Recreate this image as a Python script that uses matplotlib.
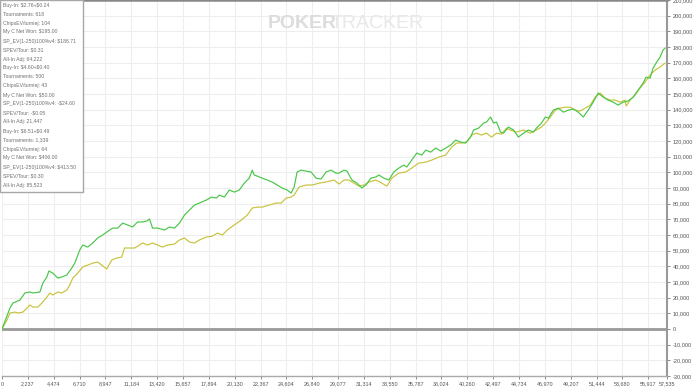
import matplotlib
matplotlib.use("Agg")
import matplotlib.pyplot as plt
from matplotlib import font_manager
from matplotlib.patches import Rectangle
from matplotlib.ticker import FuncFormatter

# ---------------- data ----------------
green_x = [0, 690, 949, 1553, 1984, 2415, 2674, 3278, 3537, 3882, 4054, 4399, 4831, 5176, 5607,
           6038, 6297, 6728, 6987, 7418, 7850, 8281, 8712, 9316, 9575, 10006, 10437, 10868, 11300,
           11731, 12163, 12508, 12766, 13025, 13457, 14060, 14492, 14923, 15354, 15786, 16217,
           16648, 17079, 17683, 18115, 18546, 18805, 19236, 19667, 20099, 20530, 20961, 21392,
           21651, 21824, 22083, 22514, 22945, 23376, 23808, 24239, 24670, 25015, 25274, 25533,
           25878, 26309, 26741, 27172, 27603, 28035, 28466, 28897, 29156, 29587, 29846, 30277,
           30709, 31140, 31485, 31916, 32348, 32606, 33038, 33469, 33900, 34331, 34763, 35022,
           35453, 35884, 36315, 36661, 37092, 37523, 37954, 38386, 38817, 39248, 39680, 40111,
           40542, 40801, 41232, 41663, 41922, 42267, 42526, 42785, 43130, 43389, 43820, 44251,
           44683, 45114, 45545, 45977, 46235, 46667, 47012, 47270, 47702, 48133, 48564, 48996,
           49427, 49858, 50289, 50721, 51152, 51583, 52015, 52446, 52877, 53309, 53740, 54171,
           54603, 55034, 55465, 55724, 56069, 56328, 56587, 56932, 57191, 57363]
green_y = [0, 13400, 16600, 18500, 23000, 23600, 23000, 23600, 29300, 33200, 37000, 35700, 32500,
           33200, 34500, 38900, 42100, 50400, 53600, 52300, 54900, 58100, 60000, 63200, 64400,
           64400, 67600, 66400, 65100, 68300, 68300, 68900, 70200, 64400, 64400, 63200, 65100,
           64400, 67600, 72700, 75900, 79100, 80400, 82300, 84200, 83600, 85500, 84200, 88700,
           87400, 88700, 93100, 96300, 101400, 98300, 97600, 96300, 95100, 93800, 91900, 90000,
           88700, 86800, 90600, 100200, 101400, 100800, 100200, 96300, 95700, 100200, 101400,
           99500, 99500, 101400, 100800, 95100, 93100, 90000, 91900, 96300, 97000, 98300, 96300,
           95100, 100200, 102700, 104600, 103400, 107800, 112300, 111000, 114200, 112900, 115500,
           113600, 115500, 117400, 120600, 119300, 118700, 122500, 127000, 128200, 131400,
           132100, 135300, 131400, 132100, 125700, 125000, 128900, 127000, 122500, 125000,
           127000, 125700, 128200, 131400, 135300, 134600, 139700, 141000, 138400, 139700,
           140400, 138400, 135300, 139700, 144800, 150600, 148000, 146100, 144800, 142900,
           144800, 145500, 148000, 152500, 156900, 160800, 160100, 166500, 169700, 173500,
           178000, 179300]

yellow_x = [0, 431, 690, 1121, 1380, 1811, 2415, 2674, 3105, 3450, 3882, 4140, 4399, 4831, 5176,
            5607, 5866, 6124, 6556, 6987, 7418, 7850, 8281, 8626, 9057, 9489, 9920, 10351, 10610,
            11041, 11473, 11904, 12163, 12594, 13025, 13457, 13888, 14319, 14923, 15354, 15786,
            16217, 16648, 17079, 17683, 18200, 18632, 19063, 19495, 20099, 20702, 21220, 21651,
            22083, 22514, 23118, 23722, 24153, 24584, 25015, 25274, 25705, 26309, 26827, 27431,
            28035, 28725, 29156, 29587, 30019, 30450, 30881, 31312, 31744, 32348, 32865, 33296,
            33728, 34331, 34935, 35453, 36057, 36661, 37178, 37782, 38386, 38903, 39335, 39766,
            40197, 40628, 41060, 41491, 41922, 42354, 42785, 43216, 43648, 43993, 44510, 45114,
            45718, 46235, 46667, 47098, 47443, 47874, 48306, 48737, 49168, 49600, 50031, 50462,
            50894, 51325, 51756, 52187, 52619, 53050, 53481, 53913, 53999, 54344, 54775, 55206,
            55638, 56069, 56500, 56932, 57363]
yellow_y = [0, 5700, 10200, 10800, 10200, 10800, 15300, 14000, 14000, 16600, 20400, 23000, 21700,
            23600, 23000, 24900, 28100, 32500, 35700, 39600, 40800, 42100, 42700, 40800, 38300,
            44000, 45300, 45900, 51700, 51700, 51700, 53600, 54900, 53600, 54900, 53600, 52300,
            53600, 54200, 56800, 58100, 55500, 54900, 56800, 58700, 59300, 61200, 60000, 63200,
            66400, 69500, 72700, 77200, 77800, 77800, 79100, 80400, 80400, 83600, 84200, 85500,
            90600, 91900, 91900, 93100, 93800, 95100, 92500, 95100, 95100, 93100, 91200, 91900,
            93800, 95100, 93100, 91200, 96300, 99500, 100200, 102700, 105900, 106500, 107800,
            109700, 111000, 116100, 118700, 118700, 119300, 123800, 125000, 123800, 125000,
            122500, 125000, 124400, 128200, 127000, 125700, 127000, 125000, 127000, 128900,
            132100, 135300, 139700, 141000, 141600, 141600, 139700, 139100, 141000, 142900,
            148000, 150600, 147400, 146100, 146100, 144800, 146100, 142300, 146100, 149300,
            153800, 157600, 162100, 165200, 167200, 169700]

x_ticks = [0, 2237, 4474, 6710, 8947, 11184, 13420, 15657, 17894, 20130, 22367, 24604, 26840,
           29077, 31314, 33550, 35787, 38024, 40260, 42497, 44734, 46970, 49207, 51444, 53680,
           55917, 57535]
y_min, y_max, y_step = -30000, 210000, 10000

legend_lines = [
    "Buy-In: $2.76+$0.24", "Tournaments: 618", "ChipsEV/turniej: 104", "My C Net Won: $195.00",
    "SP_EV(1-250)100%v4: $186.71", "SPEV/Tour: $0.31", "All-In Adj: 64,222",
    "Buy-In: $4.60+$0.40", "Tournaments: 500", "ChipsEV/turniej: 43", "My C Net Won: $50.00",
    "SP_EV(1-250)100%v4: -$24.60", "SPEV/Tour: -$0.05", "All-In Adj: 21,447",
    "Buy-In: $6.51+$0.49", "Tournaments: 1,339", "ChipsEV/turniej: 64", "My C Net Won: $406.00",
    "SP_EV(1-250)100%v4: $413.50", "SPEV/Tour: $0.30", "All-In Adj: 85,523",
]

# ---------------- fonts ----------------
names = {f.name for f in font_manager.fontManager.ttflist}
narrow = "Liberation Sans Narrow" if "Liberation Sans Narrow" in names else "Liberation Sans"
base = "Liberation Sans"
plt.rcParams['font.family'] = [base, 'DejaVu Sans']
plt.rcParams['text.parse_math'] = False

W, H = 700, 388
fig = plt.figure(figsize=(W / 100, H / 100), dpi=100)
fig.patch.set_facecolor("white")
ax = fig.add_axes([2 / W, 12 / H, 665 / W, 376 / H])
ax.set_facecolor("white")

ax.set_xlim(0, 57535)
ax.set_ylim(y_min, y_max)

ax.set_xticks(x_ticks)
ax.set_xticklabels([f"{t:,}" for t in x_ticks])
ax.set_yticks(list(range(y_min, y_max + 1, y_step)))
ax.yaxis.set_major_formatter(FuncFormatter(lambda v, p: f"{int(v):,}"))
ax.yaxis.tick_right()

ax.grid(True, color="#eeeeee", linewidth=0.8)
ax.set_axisbelow(True)

ax.spines["left"].set_visible(False)
ax.spines["top"].set_color("#888888")
ax.spines["top"].set_linewidth(1.8)
ax.spines["right"].set_color("#999999")
ax.spines["right"].set_linewidth(1.5)
ax.spines["bottom"].set_color("#aaaaaa")
ax.spines["bottom"].set_linewidth(1.0)

ax.tick_params(axis="x", length=2.5, width=0.6, color="#777777", labelsize=3.9,
               labelcolor="#555555", pad=1.5)
ax.tick_params(axis="y", length=2.5, width=0.6, color="#777777", labelsize=4.1,
               labelcolor="#555555", pad=1.5)
for lab in ax.get_xticklabels() + ax.get_yticklabels():
    lab.set_family(narrow)

ax.axhline(0, color="#9a9a9a", linewidth=2.0, zorder=2)

ax.plot(yellow_x, yellow_y, color="#c8c23c", linewidth=0.85, zorder=3)
ax.plot(green_x, green_y, color="#48c648", linewidth=0.85, zorder=4)

# watermark
fig.text(268 / W, 1 - 23 / H, "POKER", fontsize=14, fontweight="bold", color="#dcdcdc",
         family=narrow, ha="left", va="center")
fig.text(331 / W, 1 - 23 / H, "TRACKER", fontsize=14, color="#e8e8e8",
         family=narrow, ha="left", va="center")

# info box
fig.patches.append(Rectangle((0, 1 - 192 / H), 83 / W, 192 / H, transform=fig.transFigure,
                             facecolor="white", edgecolor="#a8a8a8", linewidth=1.0, zorder=5))
for i, line in enumerate(legend_lines):
    fig.text(3 / W, 1 - (5 + i * 9.0) / H, line, fontsize=3.7, color="#707070",
             ha="left", va="center", zorder=6)

fig.savefig("out.png", dpi=100, facecolor="white")
